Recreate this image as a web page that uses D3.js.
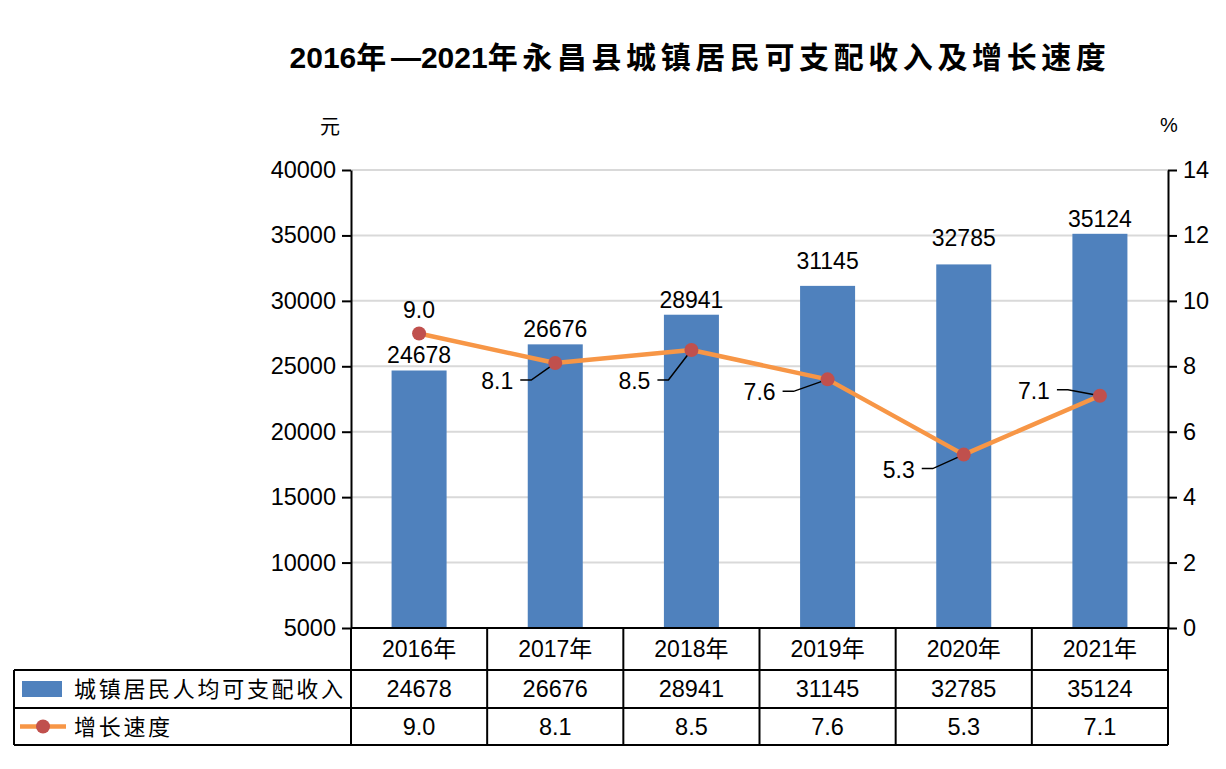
<!DOCTYPE html>
<html><head><meta charset="utf-8">
<script src="https://cdn.jsdelivr.net/npm/d3@7"></script>
<style>body{margin:0;background:#fff}svg{display:block}</style>
</head><body><svg id="c" width="1226" height="769"></svg>
<script>
// ---- data ----
const years = ["2016年","2017年","2018年","2019年","2020年","2021年"];
const incomeValues = [24678, 26676, 28941, 31145, 32785, 35124];
const growthValues = [9.0, 8.1, 8.5, 7.6, 5.3, 7.1];
const leftTicks = [5000, 10000, 15000, 20000, 25000, 30000, 35000, 40000];
const rightTicks = [0, 2, 4, 6, 8, 10, 12, 14];
const seriesNames = ["城镇居民人均可支配收入", "增长速度"];
const titleParts = ["2016", "年", "—", "2021", "年永昌县城镇居民可支配收入及增长速度"];
const leftUnit = "元";
const rightUnit = "%";

// ---- style / layout ----
const W = 1226, H = 769;
const plot = {left: 351, right: 1168, top: 170, bottom: 628};
const tableRows = [628, 670, 708, 745];
const tableLeft = 14;
const barColor = "#4F81BD", lineColor = "#F79646", markerColor = "#C0504D";
const numFont = "'Liberation Sans', Arial, sans-serif";
const cjkFont = "'Liberation Sans', 'Noto Sans CJK SC', sans-serif";
const barLabelLift = [0, 0, 0, 10, 11, 0];
// growth label placement relative to point
const growthLabelOffsets = [
  {dx: 0, dy: -24, anchor: "middle", leader: false},
  {dx: -42, dy: 18, anchor: "end", leader: true},
  {dx: -41, dy: 31, anchor: "end", leader: true},
  {dx: -52, dy: 13, anchor: "end", leader: true},
  {dx: -49, dy: 15, anchor: "end", leader: true},
  {dx: -50, dy: -5, anchor: "end", leader: true}
];

const svg = d3.select("#c");
svg.append("rect").attr("width", W).attr("height", H).attr("fill", "#fff");

const x = d3.scaleBand().domain(years).range([plot.left, plot.right]).paddingInner(0).paddingOuter(0);
const yL = d3.scaleLinear().domain([5000, 40000]).range([plot.bottom, plot.top]);
const yR = d3.scaleLinear().domain([0, 14]).range([plot.bottom, plot.top]);
const barW = x.bandwidth() * 0.404;
const cx = d => x(d) + x.bandwidth() / 2;

// title
const title = svg.append("text").attr("x", 700).attr("y", 68).attr("text-anchor", "middle")
  .attr("font-weight", "bold").attr("font-size", 30).attr("font-family", cjkFont).attr("fill", "#000");
titleParts.forEach(p => {
  const isCjk = /[\u4e00-\u9fff]/.test(p);
  title.append("tspan").text(p)
    .attr("font-family", isCjk ? "'Noto Sans CJK SC', sans-serif" : numFont)
    .attr("letter-spacing", isCjk ? 4.6 : 0);
});

// units
svg.append("text").attr("x", 330).attr("y", 134).attr("text-anchor", "middle")
  .attr("font-size", 20).attr("font-family", "'Noto Sans CJK SC', sans-serif").text(leftUnit);
svg.append("text").attr("x", 1169).attr("y", 132).attr("text-anchor", "middle")
  .attr("font-size", 20).attr("font-family", numFont).text(rightUnit);

// gridlines
svg.append("g").selectAll("line").data(leftTicks.slice(1)).join("line")
  .attr("x1", plot.left).attr("x2", plot.right)
  .attr("y1", d => yL(d)).attr("y2", d => yL(d))
  .attr("stroke", "#d9d9d9").attr("stroke-width", 2);

// bars
svg.append("g").selectAll("rect").data(years).join("rect")
  .attr("x", d => cx(d) - barW / 2).attr("width", barW)
  .attr("y", (d, i) => yL(incomeValues[i]))
  .attr("height", (d, i) => yL(5000) - yL(incomeValues[i]))
  .attr("fill", barColor);

// bar labels
svg.append("g").selectAll("text").data(years).join("text")
  .attr("x", d => cx(d)).attr("y", (d, i) => yL(incomeValues[i]) - 7 - barLabelLift[i])
  .attr("text-anchor", "middle").attr("font-size", 23).attr("font-family", numFont)
  .text((d, i) => incomeValues[i]);

// axes
const axL = svg.append("g").attr("transform", `translate(${plot.left},0)`)
  .call(d3.axisLeft(yL).tickValues(leftTicks).tickSize(9).tickSizeOuter(0).tickPadding(6).tickFormat(d3.format("d")));
const axR = svg.append("g").attr("transform", `translate(${plot.right},0)`)
  .call(d3.axisRight(yR).tickValues(rightTicks).tickSize(9).tickSizeOuter(0).tickPadding(6).tickFormat(d3.format("d")));
[axL, axR].forEach(a => {
  a.select(".domain").attr("stroke", "#000").attr("stroke-width", 2);
  a.selectAll(".tick line").attr("stroke", "#000").attr("stroke-width", 2);
  a.selectAll(".tick text").attr("font-size", 23.5).attr("font-family", numFont).attr("fill", "#000");
});

// line
const lineGen = d3.line().x(d => cx(d.year)).y(d => yR(d.v));
const pts = years.map((y, i) => ({year: y, v: growthValues[i], i}));
svg.append("path").datum(pts).attr("d", lineGen)
  .attr("fill", "none").attr("stroke", lineColor).attr("stroke-width", 4.5).attr("stroke-linejoin", "round");

// leaders + growth labels
const lg = svg.append("g");
pts.forEach(p => {
  const o = growthLabelOffsets[p.i];
  const px = cx(p.year), py = yR(p.v);
  if (o.leader) {
    const sx = px + o.dx + 7, sy = py + o.dy - 1;
    lg.append("path").attr("d", d3.line()([[sx, sy], [sx + 11, sy], [px, py]]))
      .attr("fill", "none").attr("stroke", "#000").attr("stroke-width", 1.5);
  }
});
svg.append("g").selectAll("circle").data(pts).join("circle")
  .attr("cx", d => cx(d.year)).attr("cy", d => yR(d.v)).attr("r", 7).attr("fill", markerColor);
svg.append("g").selectAll("text").data(pts).join("text")
  .attr("x", d => cx(d.year) + growthLabelOffsets[d.i].dx)
  .attr("y", d => yR(d.v) + growthLabelOffsets[d.i].dy + 8)
  .attr("text-anchor", d => growthLabelOffsets[d.i].anchor)
  .attr("font-size", 23).attr("font-family", numFont)
  .text(d => d3.format(".1f")(d.v));

// table
const tb = svg.append("g").attr("stroke", "#000").attr("stroke-width", 2);
tb.append("line").attr("x1", plot.left).attr("x2", plot.right).attr("y1", tableRows[0]).attr("y2", tableRows[0]);
[1, 2, 3].forEach(r => tb.append("line").attr("x1", tableLeft).attr("x2", plot.right)
  .attr("y1", tableRows[r]).attr("y2", tableRows[r]));
tb.append("line").attr("x1", tableLeft).attr("x2", tableLeft).attr("y1", tableRows[1]).attr("y2", tableRows[3]);
years.forEach(y => tb.append("line").attr("x1", x(y)).attr("x2", x(y)).attr("y1", tableRows[0]).attr("y2", tableRows[3]));
tb.append("line").attr("x1", plot.right).attr("x2", plot.right).attr("y1", tableRows[0]).attr("y2", tableRows[3]);

const rowMid = r => (tableRows[r] + tableRows[r + 1]) / 2;
svg.append("g").selectAll("text").data(years).join("text")
  .attr("x", d => cx(d)).attr("y", rowMid(0) + 8).attr("text-anchor", "middle")
  .attr("font-size", 23).attr("font-family", cjkFont).text(d => d);
svg.append("g").selectAll("text").data(years).join("text")
  .attr("x", d => cx(d)).attr("y", rowMid(1) + 8).attr("text-anchor", "middle")
  .attr("font-size", 23.5).attr("font-family", numFont).text((d, i) => incomeValues[i]);
svg.append("g").selectAll("text").data(years).join("text")
  .attr("x", d => cx(d)).attr("y", rowMid(2) + 8).attr("text-anchor", "middle")
  .attr("font-size", 23.5).attr("font-family", numFont).text((d, i) => d3.format(".1f")(growthValues[i]));

// legend keys in table
svg.append("rect").attr("x", 22).attr("y", rowMid(1) - 8).attr("width", 40).attr("height", 16).attr("fill", barColor);
svg.append("line").attr("x1", 20).attr("x2", 66).attr("y1", rowMid(2)).attr("y2", rowMid(2))
  .attr("stroke", lineColor).attr("stroke-width", 4.5);
svg.append("circle").attr("cx", 43).attr("cy", rowMid(2)).attr("r", 7).attr("fill", markerColor);
seriesNames.forEach((n, k) => svg.append("text").attr("x", 74).attr("y", rowMid(k + 1) + 8)
  .attr("font-size", 22).attr("letter-spacing", 2.7).attr("font-family", "'Noto Sans CJK SC', sans-serif").text(n));
</script></body></html>
